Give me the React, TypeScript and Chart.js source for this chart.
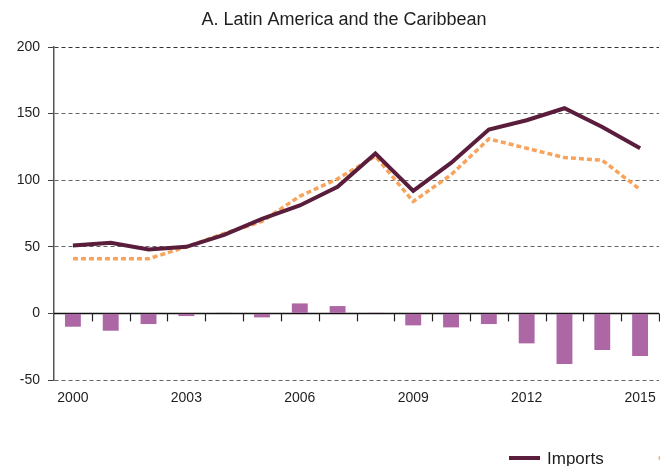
import React, { useEffect, useRef } from "react";
import { Chart, registerables } from "chart.js";

Chart.register(...registerables);

const chartTitle = "A. Latin America and the Caribbean";
const years = ["2000", "2001", "2002", "2003", "2004", "2005", "2006", "2007", "2008", "2009", "2010", "2011", "2012", "2013", "2014", "2015"];
const imports = [51, 53, 48, 50, 59, 71, 81, 95, 120, 92, 113, 138, 145, 154, 140, 124];
const exportsSeries = [41, 41, 41, 50, 60, 69, 88, 101, 118, 84, 104, 131, 124, 117, 115, 93];
const tradeBalance = [-10, -13, -8, -2, 0.5, -3, 7.5, 5.5, 0.5, -9, -10.5, -8, -22.5, -38, -27.5, -32];
const seriesLabels = ["Imports", "Exports", "Trade balance"];
const yMin = -50;
const yMax = 200;
const yStep = 50;

const FONT = "'Liberation Sans', Arial, sans-serif";
const DARK = "#5a1d3b";
const ORANGE = "#f7a35c";
const PURPLE = "#ad67a5";
const TEXT = "#1e1e1e";

const decorPlugin = {
  id: "decor",
  beforeDatasetsDraw(chart: any) {
    const { ctx, chartArea, scales } = chart;
    const y0 = scales.y.getPixelForValue(0);
    const n = years.length;
    const step = (chartArea.right - chartArea.left) / n;
    ctx.save();
    ctx.strokeStyle = "#111";
    ctx.lineWidth = 1.5;
    ctx.setLineDash([]);
    ctx.beginPath();
    ctx.moveTo(chartArea.left, y0);
    ctx.lineTo(chartArea.right, y0);
    ctx.stroke();
    ctx.lineWidth = 1.2;
    ctx.strokeStyle = "#222";
    for (let i = 1; i <= n; i++) {
      const x = Math.round(chartArea.left + i * step) + 0.5;
      ctx.beginPath();
      ctx.moveTo(x, y0);
      ctx.lineTo(x, y0 + 8);
      ctx.stroke();
    }
    ctx.restore();
  },
  afterDraw(chart: any) {
    const { ctx } = chart;
    ctx.save();
    ctx.fillStyle = TEXT;
    ctx.font = `18px ${FONT}`;
    ctx.textAlign = "center";
    ctx.textBaseline = "middle";
    ctx.fillText(chartTitle, 344, 20);

    // legend
    ctx.font = `17px ${FONT}`;
    ctx.textAlign = "left";
    let x = 509;
    const y = 458;
    const ds = chart.data.datasets;
    for (const d of ds) {
      if (d.type === "line") {
        ctx.strokeStyle = d.borderColor;
        ctx.lineWidth = d.borderWidth;
        ctx.setLineDash(d.borderDash || []);
        ctx.beginPath();
        ctx.moveTo(x, y);
        ctx.lineTo(x + 31, y);
        ctx.stroke();
        ctx.setLineDash([]);
      } else {
        ctx.fillStyle = d.backgroundColor;
        ctx.fillRect(x, y - 6, 31, 12);
      }
      x += 38;
      ctx.fillStyle = TEXT;
      ctx.fillText(d.label, x, y + 1);
      x += ctx.measureText(d.label).width + 55;
    }
    ctx.restore();
  },
};

export default function App() {
  const ref = useRef<HTMLCanvasElement | null>(null);

  useEffect(() => {
    if (!ref.current) return;
    const chart = new Chart(ref.current, {
      type: "bar",
      data: {
        labels: years,
        datasets: [
          {
            type: "line",
            label: seriesLabels[0],
            data: imports,
            borderColor: DARK,
            backgroundColor: DARK,
            borderWidth: 4,
            pointRadius: 0,
            tension: 0,
            order: 1,
          },
          {
            type: "line",
            label: seriesLabels[1],
            data: exportsSeries,
            borderColor: ORANGE,
            backgroundColor: ORANGE,
            borderWidth: 3.5,
            borderDash: [5, 3],
            pointRadius: 0,
            tension: 0,
            order: 2,
          },
          {
            type: "bar",
            label: seriesLabels[2],
            data: tradeBalance,
            backgroundColor: PURPLE,
            borderWidth: 0,
            barPercentage: 0.42,
            categoryPercentage: 1,
            order: 3,
          },
        ] as any,
      },
      options: {
        responsive: false,
        animation: false,
        devicePixelRatio: 1,
        layout: { padding: { top: 47, right: 1, left: 0, bottom: 0 } },
        plugins: {
          legend: { display: false },
          title: { display: false },
          tooltip: { enabled: false },
        },
        scales: {
          x: {
            type: "category",
            offset: true,
            grid: { display: false, drawTicks: false },
            border: { display: false },
            ticks: {
              autoSkip: false,
              maxRotation: 0,
              padding: 10,
              color: TEXT,
              font: { family: FONT, size: 14 },
              callback: (_v: any, i: number) => (i % 3 === 0 ? years[i] : ""),
            },
            afterFit: (s: any) => {
              s.height = 86;
              s.paddingLeft = 0;
              s.paddingRight = 0;
            },
          },
          y: {
            min: yMin,
            max: yMax,
            ticks: {
              stepSize: yStep,
              padding: 8,
              color: TEXT,
              font: { family: FONT, size: 14 },
            },
            grid: {
              color: (c: any) =>
                c.tick && c.tick.value === 0 ? "rgba(0,0,0,0)" : c.tick && c.tick.value === yMax ? "#333" : "#666",
              lineWidth: 1,
              drawTicks: true,
              tickLength: 6,
              tickColor: "#444",
              tickBorderDash: [],
            },
            border: { display: true, color: "#555", width: 1.5, dash: [4, 3] },
            afterFit: (s: any) => {
              s.width = 54;
            },
          },
        },
      } as any,
      plugins: [decorPlugin],
    });
    return () => chart.destroy();
  }, []);

  return (
    <div style={{ position: "absolute", left: 0, top: 0, width: 660, height: 466, background: "#fff" }}>
      <canvas ref={ref} width={660} height={466} style={{ width: 660, height: 466, display: "block" }} />
    </div>
  );
}
